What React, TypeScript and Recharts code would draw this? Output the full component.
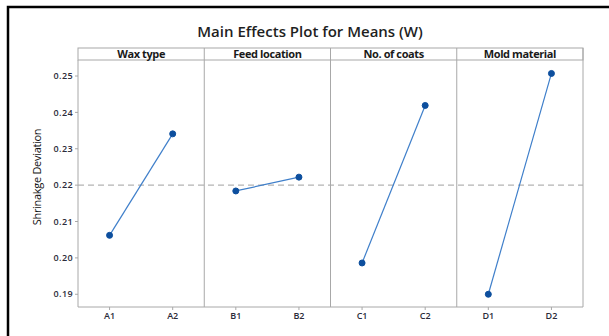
import React from 'react';
import { LineChart, Line, XAxis, YAxis, ReferenceLine } from 'recharts';

// Factor levels, in the order they appear along the x axis
const levels = ['A1', 'A2', 'B1', 'B2', 'C1', 'C2', 'D1', 'D2'];
const factors = ['Wax type', 'Feed location', 'No. of coats', 'Mold material'];

// Mean shrinkage deviation for each level
const waxType = [0.2062, 0.2341];
const feedLocation = [0.2184, 0.2222];
const noOfCoats = [0.1986, 0.2419];
const moldMaterial = [0.1900, 0.2507];

const grandMean = 0.22;
const yTicks = [0.19, 0.2, 0.21, 0.22, 0.23, 0.24, 0.25];

const seriesKeys = ['wax', 'feed', 'coats', 'mold'];
const seriesValues = [waxType, feedLocation, noOfCoats, moldMaterial];

// one row per level, only the matching factor gets a value
const data = levels.map((level, i) => {
  const row: any = { level };
  const f = Math.floor(i / 2);
  row[seriesKeys[f]] = seriesValues[f][i % 2];
  return row;
});

const COLORS = {
  line: '#3f7fca',
  dot: '#0d4f9e',
  grid: '#a8a8a8',
  mean: '#b4b4b4',
  text: '#2b2b3a',
};

const FONT = '"Open Sans", "DejaVu Sans", sans-serif';

// plot area
const PLOT = { left: 78, right: 583, top: 60, bottom: 307 };
const HEADER_TOP = 48;

const App: React.FC = () => {
  const panelW = (PLOT.right - PLOT.left) / factors.length;
  const edgePad = (PLOT.right - PLOT.left) / levels.length / 2;

  return (
    <div style={{ position: 'absolute', left: 0, top: 0, width: 609, height: 336, background: '#fff' }}>
      <LineChart
        width={609}
        height={336}
        data={data}
        margin={{ top: PLOT.top, right: 609 - PLOT.right, bottom: 0, left: PLOT.left - 60 }}
      >
        <XAxis
          dataKey="level"
          stroke={COLORS.grid}
          tickSize={3}
          height={336 - PLOT.bottom}
          padding={{ left: edgePad, right: edgePad }}
          tick={{ fill: COLORS.text, fontSize: 9, fontFamily: FONT, fontWeight: 600 }}
          tickMargin={3}
        />
        <YAxis
          domain={[0.1865, 0.2544]}
          ticks={yTicks}
          width={60}
          stroke={COLORS.grid}
          tickSize={3}
          tickMargin={2}
          tickFormatter={(v: number) => v.toFixed(2)}
          tick={{ fill: COLORS.text, fontSize: 9, fontFamily: FONT, fontWeight: 600, letterSpacing: 0.4 }}
          allowDataOverflow
        />
        <ReferenceLine y={grandMean} stroke={COLORS.mean} strokeDasharray="6 4" strokeWidth={1.2} />
        {seriesKeys.map((k) => (
          <Line
            key={k}
            dataKey={k}
            stroke={COLORS.line}
            strokeWidth={1.2}
            dot={{ r: 3, fill: COLORS.dot, stroke: COLORS.dot, strokeWidth: 1 }}
            connectNulls
            isAnimationActive={false}
          />
        ))}
      </LineChart>

      <svg
        width={609}
        height={336}
        style={{ position: 'absolute', left: 0, top: 0, pointerEvents: 'none' }}
      >
        {/* outer frame */}
        <rect x={8} y={7} width={610} height={340} fill="none" stroke="#000" strokeWidth={2.5} />

        <text
          x={310}
          y={37}
          textAnchor="middle"
          fontFamily={FONT}
          fontSize={15}
          fontWeight={600}
          fill="#1f1f1f"
        >
          Main Effects Plot for Means (W)
        </text>

        {/* panel header strip */}
        <rect
          x={PLOT.left}
          y={HEADER_TOP}
          width={PLOT.right - PLOT.left}
          height={PLOT.top - HEADER_TOP}
          fill="#fff"
          stroke={COLORS.grid}
          strokeWidth={1}
        />
        {/* panel dividers and right edge */}
        {[1, 2, 3, 4].map((i) => (
          <line
            key={i}
            x1={PLOT.left + i * panelW}
            x2={PLOT.left + i * panelW}
            y1={HEADER_TOP}
            y2={PLOT.bottom}
            stroke={COLORS.grid}
            strokeWidth={1}
          />
        ))}
        {factors.map((f, i) => (
          <text
            key={f}
            x={PLOT.left + (i + 0.5) * panelW}
            y={58}
            textAnchor="middle"
            fontFamily={FONT}
            fontSize={11}
            fontWeight={700}
            letterSpacing={-0.4}
            fill="#1a1a1a"
          >
            {f}
          </text>
        ))}

        <text
          transform="translate(41, 177) rotate(-90)"
          textAnchor="middle"
          fontFamily={FONT}
          fontSize={11}
          letterSpacing={-0.3}
          fill="#111"
        >
          Shrinakge Deviation
        </text>
      </svg>
    </div>
  );
};

export default App;
